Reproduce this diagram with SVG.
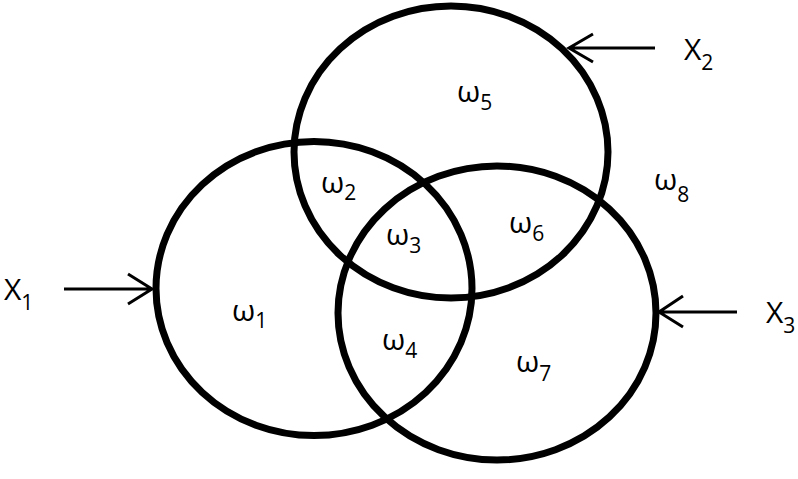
<svg xmlns="http://www.w3.org/2000/svg" width="798" height="479" viewBox="0 0 798 479">
<style>
.c{fill:none;stroke:#000;stroke-width:7}
.a{fill:none;stroke:#000;stroke-width:3}
text{font-family:"Open Sans","Noto Sans",sans-serif;font-size:30px;fill:#000}
.s{font-size:21px}
</style>
<rect width="798" height="479" fill="#fff"/>
<g id="set1"><ellipse class="c" cx="314" cy="288.5" rx="158" ry="147"/></g>
<g id="set2"><ellipse class="c" cx="451" cy="152" rx="157" ry="146"/></g>
<g id="set3"><ellipse class="c" cx="497" cy="313" rx="159" ry="147"/></g>
<g id="connectors">
<path class="a" d="M64 289H152M128 274L152 289L128 304"/>
<path class="a" d="M655 48H569M593 34L569 48L593 62"/>
<path class="a" d="M737 312H659M683 296L659 312L683 327"/>
</g>
<g id="labels">
<text x="4" y="300">X<tspan class="s" dy="10">1</tspan></text>
<text x="684" y="60">X<tspan class="s" dy="10">2</tspan></text>
<text x="766" y="323">X<tspan class="s" dy="10">3</tspan></text>
<text x="232" y="321">ω<tspan class="s" dy="7">1</tspan></text>
<text x="321" y="193">ω<tspan class="s" dy="7">2</tspan></text>
<text x="386" y="245">ω<tspan class="s" dy="8">3</tspan></text>
<text x="382" y="350">ω<tspan class="s" dy="8">4</tspan></text>
<text x="457" y="102">ω<tspan class="s" dy="8">5</tspan></text>
<text x="509" y="233">ω<tspan class="s" dy="8">6</tspan></text>
<text x="516" y="372">ω<tspan class="s" dy="9">7</tspan></text>
<text x="654" y="190">ω<tspan class="s" dy="12">8</tspan></text>
</g>
</svg>
